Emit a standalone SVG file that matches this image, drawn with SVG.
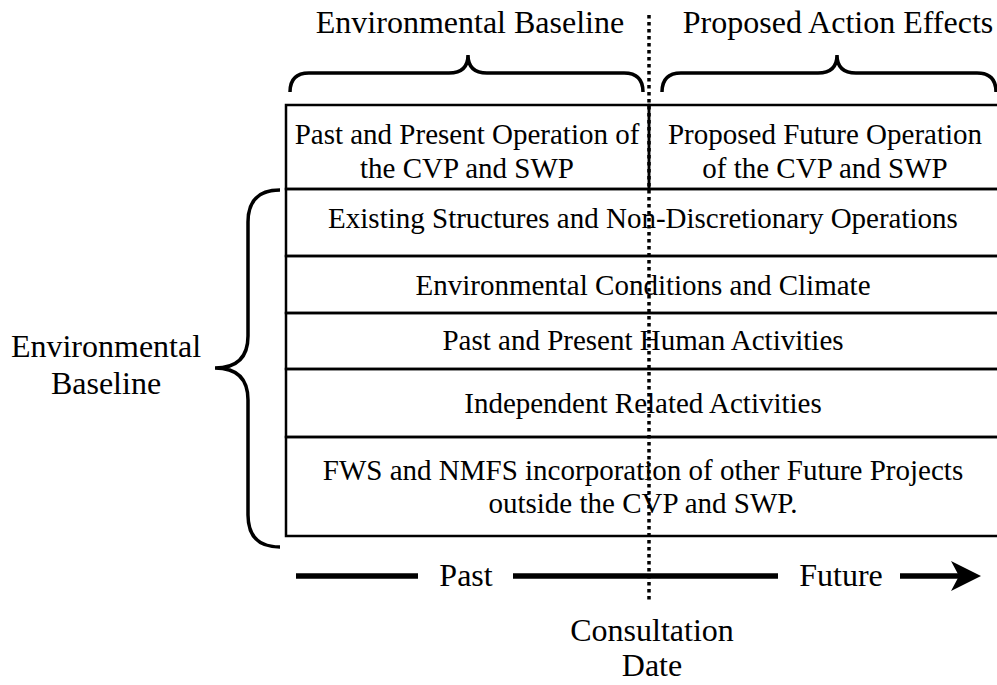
<svg xmlns="http://www.w3.org/2000/svg" width="997" height="685" viewBox="0 0 997 685">
<style>
text{font-family:'Liberation Serif','Times New Roman',Times,serif;fill:#000;text-anchor:middle}
.t{font-size:29px}
.h{font-size:32px}
.cell{fill:none;stroke:#000;stroke-width:2.5}
.brace{fill:none;stroke:#000;stroke-width:3.5;stroke-linecap:butt}
.dot{stroke:#000;stroke-width:3.5;stroke-dasharray:3.5 3.5}
.tl{stroke:#000;stroke-width:5.5}
</style>
<rect width="997" height="685" fill="#fff"/>
<g id="header-baseline"><text class="h" x="470" y="33">Environmental Baseline</text>
<path class="brace" d="M290,92 Q290,73 309,73 L449,73 Q468,73 468,55 Q468,73 487,73 L624,73 Q643,73 643,92"/></g>
<g id="header-effects"><text class="h" x="838" y="33">Proposed Action Effects</text>
<path class="brace" d="M662,92 Q662,73 681,73 L818,73 Q837,73 837,55 Q837,73 856,73 L977,73 Q996,73 996,92"/></g>
<g id="left-label"><text class="h" x="106" y="357">Environmental</text><text class="h" x="106" y="394">Baseline</text>
<path class="brace" d="M280,190 Q248,190 248,222 L248,336 Q248,368 215,368 Q248,368 248,400 L248,515 Q248,547 280,547"/></g>
<g id="row1-past"><rect class="cell" x="286" y="105" width="363" height="84"/><text class="t" x="467" y="144">Past and Present Operation of</text><text class="t" x="467" y="178">the CVP and SWP</text></g>
<g id="row1-future"><rect class="cell" x="649" y="105" width="351" height="84"/><text class="t" x="825" y="144">Proposed Future Operation</text><text class="t" x="825" y="178">of the CVP and SWP</text></g>
<g id="row2"><rect class="cell" x="286" y="189" width="714" height="67"/><text class="t" x="643" y="228">Existing Structures and Non-Discretionary Operations</text></g>
<g id="row3"><rect class="cell" x="286" y="256" width="714" height="57"/><text class="t" x="643" y="295">Environmental Conditions and Climate</text></g>
<g id="row4"><rect class="cell" x="286" y="313" width="714" height="56"/><text class="t" x="643" y="350">Past and Present Human Activities</text></g>
<g id="row5"><rect class="cell" x="286" y="369" width="714" height="68"/><text class="t" x="643" y="413">Independent Related Activities</text></g>
<g id="row6"><rect class="cell" x="286" y="437" width="714" height="99"/><text class="t" x="643" y="480">FWS and NMFS incorporation of other Future Projects</text><text class="t" x="643" y="513">outside the CVP and SWP.</text></g>
<g id="connectors">
<line class="dot" x1="649" y1="15" x2="649" y2="602"/>
<line class="tl" x1="296" y1="576" x2="418" y2="576"/>
<line class="tl" x1="513" y1="576" x2="778" y2="576"/>
<line class="tl" x1="900" y1="576" x2="960" y2="576"/>
<polygon points="981,576 951,561 959,576 951,591" fill="#000"/>
</g>
<g id="timeline-labels">
<text class="h" x="466" y="586">Past</text>
<text class="h" x="841" y="586">Future</text>
<text class="h" x="652" y="641">Consultation</text>
<text class="h" x="652" y="676">Date</text>
</g>
</svg>
